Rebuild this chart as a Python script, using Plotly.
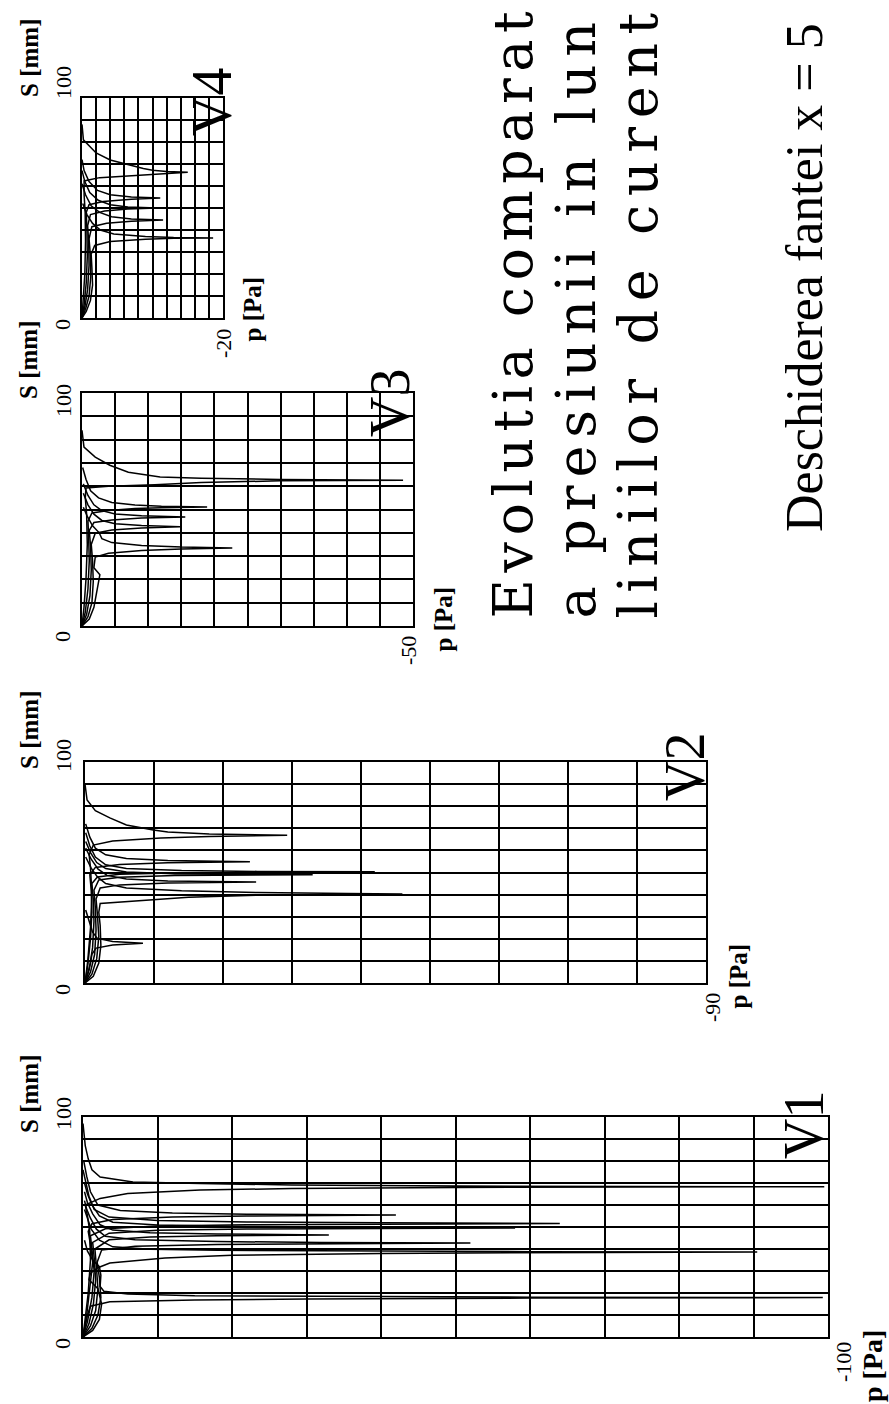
import plotly.graph_objects as go

W, H = 889, 1404

# ---- data: pressure p [Pa] along each streamline vs. arc length S [mm] ----
# each streamline is a list of (S, p) points
V1_LINES = [
    [(0, 0), (8, -0.3), (20, -0.7), (35, -1.0), (48, -0.9), (55, -0.6), (60, -0.3), (63, -2.3), (65.2, -6),
     (66.8, -15.7), (67.5, -28), (68.0, -50), (68.3, -99.5), (68.6, -50), (69.1, -28), (69.8, -15.7),
     (70.5, -6.7), (72.7, -2.3), (76, -1.2), (81, -0.7), (87, -0.3), (97, 0)],
    [(0, 0), (10, -0.5), (22, -0.9), (34, -1.3), (42, -1.0), (48, -0.7), (51.5, -1.2), (53.4, -4), (54.5, -12),
     (55.0, -22), (55.4, -42), (55.8, -22), (56.4, -12), (57.5, -5), (60, -2), (66, -1), (73, -0.5), (80, -0.1)],
    [(0, 0), (7, -0.6), (18, -1.2), (30, -1.5), (40, -1.2), (46, -1.0), (49.2, -3), (50.4, -10), (51.0, -22),
     (51.35, -40), (51.6, -64), (51.9, -40), (52.3, -22), (53.0, -10), (54.5, -3.5), (58, -1.5), (64, -0.8),
     (70, -0.4), (76, 0)],
    [(0, 0), (6, -0.8), (15, -1.4), (26, -1.7), (36, -1.5), (43, -1.3), (47.2, -3.5), (48.5, -10), (49.1, -22),
     (49.4, -38), (49.6, -58), (49.85, -38), (50.2, -22), (50.9, -10), (52.2, -4), (55, -2.2), (60, -1.2),
     (65, -0.6), (70, -0.2)],
    [(0, 0), (5, -1.0), (12, -1.7), (22, -2.0), (32, -1.8), (40, -1.6), (44.2, -3.5), (45.5, -9), (46.0, -18),
     (46.4, -33), (46.8, -18), (47.4, -9), (48.6, -4), (51, -2.3), (56, -1.3), (61, -0.6), (66, -0.2)],
    [(0, 0), (4, -1.2), (10, -2.0), (18, -2.4), (27, -2.2), (34, -1.9), (39.5, -2.5), (41.2, -7), (42.1, -18),
     (42.45, -32), (42.7, -52), (42.95, -32), (43.4, -18), (44.2, -7), (45.8, -3), (49, -1.8), (54, -1.0),
     (58, -0.5), (62, -0.2)],
    [(0, 0), (3, -1.3), (8, -2.2), (15, -2.5), (22, -2.0), (26, -0.8), (29, -1.0), (31.5, -2.0), (33.6, -3.6),
     (35.9, -11), (37.2, -20), (38.0, -40), (38.45, -70), (38.6, -90.5), (38.8, -60), (39.1, -30), (39.4, -18),
     (39.9, -9), (41, -4), (44, -2.2), (49, -1.1), (54, -0.6), (58, -0.2)],
    [(0, 0), (5, -0.3), (10, -0.6), (14, -1.0), (16.0, -3.6), (16.8, -15), (17.3, -30), (17.7, -60),
     (17.9, -99.3), (18.1, -60), (18.4, -30), (18.7, -15), (19.5, -6), (20.8, -2.8), (23, -2.3), (28, -2.4),
     (32, -2.2), (35, -1.3), (39, -0.6), (44, -0.2)],
]

V2_LINES = [
    [(0, 0), (10, -0.4), (25, -0.8), (40, -1.0), (52, -0.8), (58, -0.6), (62.4, -1.2), (64.2, -4), (65.6, -11),
     (66.3, -18), (66.8, -29.3), (67.4, -18), (68.3, -12), (69.2, -9.9), (71.5, -6), (74.7, -3.6), (78, -1.5),
     (82.8, -0.3), (90, 0)],
    [(0, 0), (8, -0.4), (20, -0.8), (32, -1.0), (42, -0.9), (49, -0.7), (52.3, -1.5), (53.6, -5), (54.4, -12),
     (54.9, -23.9), (55.4, -12), (56.3, -6), (58, -3), (61, -1.5), (66, -0.7), (72, -0.1)],
    [(0, 0), (6, -0.6), (16, -1.1), (28, -1.3), (38, -1.2), (45, -1.0), (48, -1.8), (49.2, -5), (49.9, -14),
     (50.15, -25), (50.3, -42), (50.5, -25), (50.9, -14), (51.8, -6), (53.5, -3), (57, -1.5), (62, -0.7),
     (68, -0.1)],
    [(0, 0), (5, -0.8), (13, -1.4), (24, -1.6), (34, -1.5), (42, -1.3), (46.6, -2), (47.9, -5), (48.6, -13),
     (49.0, -33), (49.4, -13), (50.2, -6), (51.8, -3), (54.5, -1.7), (59, -0.8), (64, -0.1)],
    [(0, 0), (4, -1.0), (11, -1.7), (21, -2.0), (31, -1.8), (38, -1.6), (43, -2.2), (44.4, -5), (45.2, -12),
     (45.7, -24.8), (46.2, -12), (47.1, -6), (48.7, -3.2), (51.5, -1.9), (56, -0.9), (61, -0.1)],
    [(0, 0), (3, -1.2), (9, -2.0), (17, -2.3), (26, -2.2), (32, -2.0), (36, -2.2), (37.5, -9.9), (38.8, -15),
     (39.7, -25), (40.1, -38), (40.3, -46), (40.5, -38), (40.9, -25), (41.7, -14), (43, -6), (45, -3),
     (48, -1.8), (52, -0.9), (57, -0.1)],
    [(0, 0), (4, -0.4), (9, -0.8), (13, -1.0), (15.8, -1.6), (17.2, -4), (18.0, -8.4), (18.8, -4), (20.2, -1.8),
     (23, -1.1), (28, -0.6), (33, -0.1)],
]

V3_LINES = [
    [(0, 0), (8, -0.3), (20, -0.6), (35, -0.8), (48, -0.7), (55, -0.5), (59.2, -0.6), (60.0, -4), (60.6, -11),
     (61.6, -18), (62.3, -30), (62.6, -48.5), (62.9, -30), (63.4, -18), (64, -11.8), (66, -7), (69, -4.2),
     (72.5, -2), (76.8, -0.3), (84, 0)],
    [(0, 0), (6, -0.5), (16, -0.9), (28, -1.1), (38, -1.0), (45, -0.9), (48.5, -1.5), (49.6, -4), (50.4, -8),
     (50.8, -12), (51.1, -18.9), (51.4, -12), (51.9, -8), (53, -4.5), (55, -2.5), (58, -1.3), (63, -0.6),
     (68, -0.1)],
    [(0, 0), (5, -0.7), (13, -1.2), (24, -1.4), (34, -1.3), (41, -1.1), (44.4, -1.8), (45.5, -4.5), (46.3, -9),
     (46.8, -15.6), (47.3, -9), (48.1, -5), (49.5, -3), (52, -1.8), (56, -0.9), (61, -0.2)],
    [(0, 0), (4, -0.9), (10, -1.5), (19, -1.7), (28, -1.6), (35, -1.4), (39.8, -2), (41.2, -4.5), (42.1, -9),
     (42.6, -14.8), (43.1, -9), (43.9, -5), (45.3, -3), (48, -1.8), (52, -0.9), (57, -0.2)],
    [(0, 0), (3, -1.1), (8, -1.8), (14, -2.2), (18, -2.4), (22, -2.7), (25, -1.8), (29.6, -2), (31.2, -4),
     (32.4, -9), (33.1, -15), (33.5, -22.7), (33.9, -15), (34.6, -9), (35.8, -4.5), (37.5, -3), (40, -2.6),
     (43, -1.6), (47, -0.8), (51, -0.2)],
]

V4_LINES = [
    [(0, 0), (8, -0.2), (20, -0.4), (35, -0.5), (48, -0.45), (56, -0.3), (62.3, -0.3), (63.8, -2.5), (65, -8.7),
     (65.8, -12), (66.2, -15), (66.6, -12), (67.2, -10), (68, -8.7), (70, -6), (71.8, -4), (75, -2), (81, -0.2),
     (88, 0)],
    [(0, 0), (6, -0.3), (16, -0.6), (28, -0.75), (40, -0.7), (48, -0.6), (51.5, -1), (53, -3), (54, -7),
     (54.5, -11.1), (55, -7), (56, -4), (58, -2.2), (62, -1), (67, -0.3), (72, 0)],
    [(0, 0), (5, -0.4), (13, -0.8), (24, -1.0), (34, -0.95), (42, -0.8), (47, -1.2), (48.6, -3.2), (49.5, -6.5),
     (50.0, -10.6), (50.5, -6.5), (51.5, -4), (53.5, -2.3), (57, -1.1), (62, -0.4), (67, 0)],
    [(0, 0), (4, -0.5), (10, -1.0), (19, -1.25), (28, -1.2), (36, -1.0), (41.5, -1.4), (43.1, -3.5), (44, -7),
     (44.5, -11.5), (45, -7), (46, -4.2), (48, -2.5), (51, -1.3), (56, -0.5), (61, 0)],
    [(0, 0), (3, -0.6), (8, -1.2), (15, -1.5), (23, -1.4), (29, -1.3), (33, -1.8), (34.8, -4), (35.8, -9),
     (36.2, -13), (36.4, -18.6), (36.6, -13), (37.1, -9), (38.2, -4.5), (40, -2.6), (43, -1.5), (47, -0.7),
     (52, -0.1)],
]

PANEL_NAMES = ["V1", "V2", "V3", "V4"]
P_MIN = [-100, -90, -50, -20]       # lower pressure limit of each panel
P_STEP = [10, 10, 5, 2]             # pressure grid step
S_RANGE = [0, 100]
S_STEP = 10
P_TICK_LABELS = ["-100", "-90", "-50", "-20"]

TITLE_LINES = ["Evolutia comparat", "a presiunii in lun", "liniilor de curent"]
SUBTITLE = "Deschiderea fantei x = 5"

# ---- layout: panel frames in page pixels (left, right, top, bottom) ----
FRAMES = [(83, 828, 1117, 1337), (85, 706, 762, 983), (82, 413, 393, 626), (82, 223, 98, 318)]


def fx(v):
    return v / W


def fy(v):
    return 1 - v / H


fig = go.Figure()
SERIF = "Liberation Serif, Times New Roman, serif"
annotations = []


def vtext(text, x, y, size, family=SERIF, xanchor="center", yanchor="middle", bold=False):
    """Text turned a quarter turn, reading upward."""
    if bold:
        text = "<b>" + text + "</b>"
    annotations.append(dict(text=text, x=fx(x), y=fy(y), xref="paper", yref="paper", showarrow=False,
                            textangle=-90, xanchor=xanchor, yanchor=yanchor, borderpad=0,
                            font=dict(family=family, size=size, color="black")))


all_lines = [V1_LINES, V2_LINES, V3_LINES, V4_LINES]
for i in range(4):
    l, r, t, b = FRAMES[i]
    suffix = "" if i == 0 else str(i + 1)
    xa, ya = "x" + suffix, "y" + suffix
    for line in all_lines[i]:
        fig.add_trace(go.Scatter(
            x=[pt[1] for pt in line], y=[pt[0] for pt in line], mode="lines",
            line=dict(color="black", width=1.5), xaxis=xa, yaxis=ya,
            hoverinfo="skip", showlegend=False))
    axis_style = dict(showgrid=True, gridcolor="black", gridwidth=2, showline=True, mirror=True,
                      linecolor="black", linewidth=2, showticklabels=False, ticks="", zeroline=False,
                      fixedrange=True)
    fig.layout["xaxis" + suffix] = dict(domain=[fx(l), fx(r)], range=[0, P_MIN[i]], dtick=P_STEP[i], tick0=0,
                                        anchor=ya, **axis_style)
    fig.layout["yaxis" + suffix] = dict(domain=[fy(b), fy(t)], range=S_RANGE, dtick=S_STEP, tick0=0,
                                        anchor=xa, **axis_style)

# axis labels (the page is turned: S runs upward, p runs to the right)
S_TITLE_BOTTOM = [1134, 770, 400, 98]
S100_CENTER = [1114, 756, 401, 83]
S0_CENTER = [1344, 990, 637, 325]
P_LABEL_DX = [15, 6, -5, 0]
P_TITLE_DX = [44, 32, 30, 29]
P_TITLE_BOTTOM = [1403, 1010, 653, 343]
P_TITLE_SIZE = [28, 25, 25, 25]
NAME_DX = [8, 11, 9, 21]
NAME_DY = [43, 40, 45, 39]
for i in range(4):
    l, r, t, b = FRAMES[i]
    vtext("S [mm]", 29, S_TITLE_BOTTOM[i], 25, yanchor="bottom", bold=True)
    vtext("100", 63, S100_CENTER[i], 22)
    vtext("0", 62, S0_CENTER[i], 22)
    vtext(P_TICK_LABELS[i], r + P_LABEL_DX[i], b + 25, 22)
    vtext("p [Pa]", r + P_TITLE_DX[i], P_TITLE_BOTTOM[i], P_TITLE_SIZE[i], yanchor="bottom", bold=True)
    vtext(PANEL_NAMES[i], r + NAME_DX[i], t + NAME_DY[i], 56, xanchor="right", yanchor="bottom")

# title block
TITLE_BASELINES = [532, 595, 657]
TITLE_SPACING = [6.5, 7.8, 8.6]
for txt, base, sp in zip(TITLE_LINES, TITLE_BASELINES, TITLE_SPACING):
    vtext('<span style="letter-spacing:%spx">%s</span>' % (sp, txt), base + 13, 620, 54,
          family="DejaVu Serif, serif", xanchor="right", yanchor="bottom")
vtext(SUBTITLE, 834, 533, 52, xanchor="right", yanchor="bottom")

fig.update_layout(width=W, height=H, margin=dict(l=0, r=0, t=0, b=0), paper_bgcolor="white",
                  plot_bgcolor="white", annotations=annotations, showlegend=False)
fig.write_html("out.html")
